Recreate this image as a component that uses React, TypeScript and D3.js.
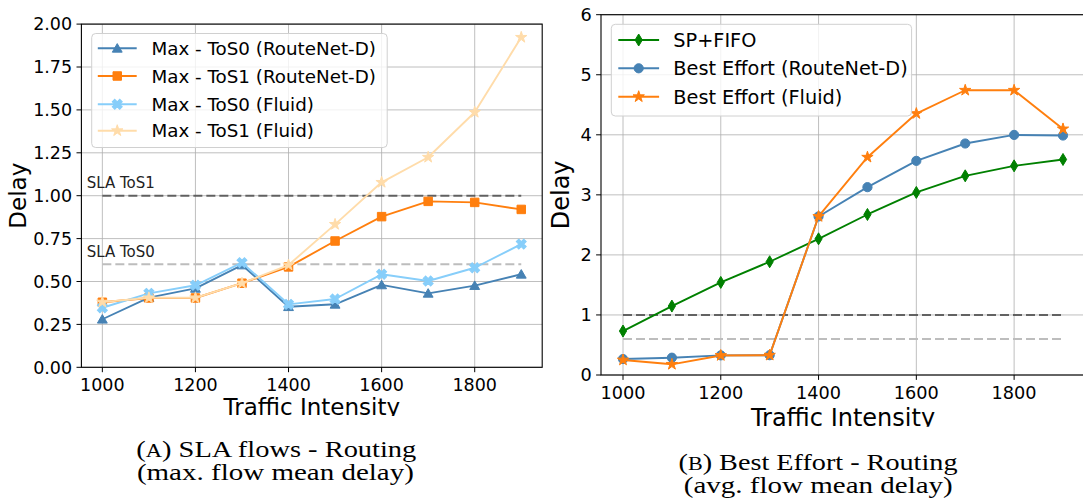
import React from 'react';
import * as d3 from 'd3';

// ---------------- data ----------------
const intensities = [1000, 1100, 1200, 1300, 1400, 1500, 1600, 1700, 1800, 1900];

const maxTos0RouteNet = [0.28, 0.406, 0.46, 0.596, 0.353, 0.367, 0.48, 0.431, 0.476, 0.542];
const maxTos1RouteNet = [0.379, 0.404, 0.404, 0.49, 0.585, 0.736, 0.878, 0.967, 0.961, 0.92];
const maxTos0Fluid = [0.347, 0.431, 0.478, 0.61, 0.367, 0.398, 0.542, 0.503, 0.58, 0.718];
const maxTos1Fluid = [0.38, 0.405, 0.405, 0.49, 0.596, 0.833, 1.078, 1.224, 1.486, 1.923];

const spFifo = [0.732, 1.148, 1.542, 1.886, 2.268, 2.673, 3.04, 3.317, 3.483, 3.589];
const bestEffortRouteNet = [0.266, 0.288, 0.327, 0.33, 2.64, 3.128, 3.566, 3.855, 3.998, 3.988];
const bestEffortFluid = [0.25, 0.178, 0.325, 0.33, 2.64, 3.627, 4.354, 4.742, 4.742, 4.098];

const slaTos1 = 1.0;
const slaTos0 = 0.6;

const xTicks = [1000, 1200, 1400, 1600, 1800];
const leftYTicks = [0, 0.25, 0.5, 0.75, 1.0, 1.25, 1.5, 1.75, 2.0];
const rightYTicks = [0, 1, 2, 3, 4, 5, 6];

const leftLabels = ['Max - ToS0 (RouteNet-D)', 'Max - ToS1 (RouteNet-D)', 'Max - ToS0 (Fluid)', 'Max - ToS1 (Fluid)'];
const rightLabels = ['SP+FIFO', 'Best Effort (RouteNet-D)', 'Best Effort (Fluid)'];

// ---------------- helpers ----------------
const FONT = 'DejaVu Sans, sans-serif';

type MarkerKind = 'triangle' | 'square' | 'xcross' | 'star' | 'diamond' | 'circle';

function Marker({ kind, x, y, color, size }: { kind: MarkerKind; x: number; y: number; color: string; size: number }) {
  if (kind === 'circle') return <circle cx={x} cy={y} r={size} fill={color} stroke={color} strokeWidth={1} />;
  if (kind === 'diamond') {
    const h = size, w = size * 0.6;
    return <path d={`M${x},${y - h}L${x + w},${y}L${x},${y + h}L${x - w},${y}Z`} fill={color} stroke={color} strokeWidth={1} />;
  }
  let sym: d3.SymbolType = d3.symbolSquare;
  let rot = 0;
  if (kind === 'triangle') sym = d3.symbolTriangle;
  if (kind === 'star') sym = d3.symbolStar;
  if (kind === 'xcross') { sym = d3.symbolCross; rot = 45; }
  const d = d3.symbol(sym, size)() || '';
  const dy = kind === 'triangle' ? 1 : 0;
  return <path d={d} transform={`translate(${x},${y + dy}) rotate(${rot})`} fill={color} stroke={color} strokeWidth={1} />;
}

interface Series { values: number[]; color: string; marker: MarkerKind; msize: number; label: string; lw: number }

interface PanelProps {
  x0: number; x1: number; y0: number; y1: number; ymax: number;
  yTicks: number[]; yFmt: (v: number) => string;
  series: Series[];
  tickFont: number; labelFont: number;
  yLabelX: number; xLabelY: number;
  legend: { x: number; y: number; w: number; h: number; rows: number[]; hx0: number; hx1: number; tx: number; font: number };
  slaText: boolean;
  clipId: string; clip: { x: number; y: number; w: number; h: number };
}

function Panel(p: PanelProps) {
  const x = d3.scaleLinear().domain([955, 1945]).range([p.x0, p.x1]);
  const y = d3.scaleLinear().domain([0, p.ymax]).range([p.y0, p.y1]);
  const line = d3.line<number>().x((_, i) => x(intensities[i])).y((v) => y(v));
  const grid = '#b0b0b0';
  return (
    <g clipPath={`url(#${p.clipId})`}>
      <defs>
        <clipPath id={p.clipId}><rect x={p.clip.x} y={p.clip.y} width={p.clip.w} height={p.clip.h} /></clipPath>
      </defs>
      {/* grid */}
      {xTicks.map((t) => (
        <line key={'gx' + t} x1={x(t)} x2={x(t)} y1={p.y0} y2={p.y1} stroke={grid} strokeWidth={1} opacity={0.8} />
      ))}
      {p.yTicks.map((t) => (
        <line key={'gy' + t} x1={p.x0} x2={p.x1} y1={y(t)} y2={y(t)} stroke={grid} strokeWidth={1} opacity={0.8} />
      ))}
      {/* SLA lines */}
      <line x1={x(1000)} x2={x(1900)} y1={y(slaTos1)} y2={y(slaTos1)} stroke="#555" strokeWidth={2} strokeDasharray="9,4" opacity={0.9} />
      <line x1={x(1000)} x2={x(1900)} y1={y(slaTos0)} y2={y(slaTos0)} stroke="#bdbdbd" strokeWidth={2} strokeDasharray="9,4" />
      {p.slaText && (
        <g fontFamily={FONT} fontSize={15} fill="#222">
          <text x={p.x0 + 5.3} y={y(slaTos1) - 7.5}>SLA ToS1</text>
          <text x={p.x0 + 5.3} y={y(slaTos0) - 7.5}>SLA ToS0</text>
        </g>
      )}
      {/* series */}
      {p.series.map((s, si) => (
        <g key={'s' + si}>
          <path d={line(s.values) || ''} fill="none" stroke={s.color} strokeWidth={s.lw} strokeLinejoin="round" />
          {s.values.map((v, i) => (
            <Marker key={i} kind={s.marker} x={x(intensities[i])} y={y(v)} color={s.color} size={s.msize} />
          ))}
        </g>
      ))}
      {/* spines */}
      <rect x={p.x0} y={p.y1} width={p.x1 - p.x0} height={p.y0 - p.y1} fill="none" stroke="#000" strokeWidth={1.1} />
      {/* ticks */}
      {xTicks.map((t) => (
        <g key={'tx' + t}>
          <line x1={x(t)} x2={x(t)} y1={p.y0} y2={p.y0 + 4.9} stroke="#000" strokeWidth={1} />
          <text x={x(t)} y={p.y0 + 23.7} textAnchor="middle" fontFamily={FONT} fontSize={p.tickFont} fill="#000">{t}</text>
        </g>
      ))}
      {p.yTicks.map((t) => (
        <g key={'ty' + t}>
          <line x1={p.x0 - 4.9} x2={p.x0} y1={y(t)} y2={y(t)} stroke="#000" strokeWidth={1} />
          <text x={p.x0 - 9.3} y={y(t)} dy="0.36em" textAnchor="end" fontFamily={FONT} fontSize={p.tickFont} fill="#000">{p.yFmt(t)}</text>
        </g>
      ))}
      {/* axis labels */}
      <text x={(p.x0 + p.x1) / 2} y={p.xLabelY} textAnchor="middle" fontFamily={FONT} fontSize={p.labelFont} fill="#000">Traffic Intensity</text>
      <text transform={`translate(${p.yLabelX},${(p.y0 + p.y1) / 2}) rotate(-90)`} textAnchor="middle" fontFamily={FONT} fontSize={p.labelFont} fill="#000">Delay</text>
      {/* legend */}
      <rect x={p.legend.x} y={p.legend.y} width={p.legend.w} height={p.legend.h} rx={4} fill="#fff" fillOpacity={0.8} stroke="#d0d0d0" strokeWidth={1} />
      {p.series.map((s, si) => {
        const cy = p.legend.rows[si];
        return (
          <g key={'lg' + si}>
            <line x1={p.legend.hx0} x2={p.legend.hx1} y1={cy} y2={cy} stroke={s.color} strokeWidth={s.lw} />
            <Marker kind={s.marker} x={(p.legend.hx0 + p.legend.hx1) / 2} y={cy} color={s.color} size={s.msize} />
            <text x={p.legend.tx} y={cy} dy="0.36em" fontFamily={FONT} fontSize={p.legend.font} fill="#000">{s.label}</text>
          </g>
        );
      })}
    </g>
  );
}

export default function App() {
  const leftSeries: Series[] = [
    { values: maxTos0RouteNet, color: '#4682b4', marker: 'triangle', msize: 42, label: leftLabels[0], lw: 1.9 },
    { values: maxTos1RouteNet, color: '#ff7f0e', marker: 'square', msize: 72, label: leftLabels[1], lw: 1.9 },
    { values: maxTos0Fluid, color: '#87cefa', marker: 'xcross', msize: 62, label: leftLabels[2], lw: 1.9 },
    { values: maxTos1Fluid, color: '#ffdcaa', marker: 'star', msize: 40, label: leftLabels[3], lw: 1.9 },
  ];
  const rightSeries: Series[] = [
    { values: spFifo, color: '#008000', marker: 'diamond', msize: 6, label: rightLabels[0], lw: 1.9 },
    { values: bestEffortRouteNet, color: '#4682b4', marker: 'circle', msize: 4.6, label: rightLabels[1], lw: 1.9 },
    { values: bestEffortFluid, color: '#ff7f0e', marker: 'star', msize: 40, label: rightLabels[2], lw: 1.9 },
  ];
  const capFont = 'Liberation Serif, Times New Roman, serif';
  return (
    <svg width={1083} height={502} style={{ position: 'absolute', left: 0, top: 0, background: '#fff' }}>
      <rect x={0} y={0} width={1083} height={502} fill="#fff" />
      <Panel
        x0={81.4} x1={542.2} y0={367.3} y1={24.1} ymax={2}
        yTicks={leftYTicks} yFmt={(v) => v.toFixed(2)}
        series={leftSeries} tickFont={17.5} labelFont={23}
        yLabelX={26} xLabelY={415}
        legend={{ x: 91.7, y: 33.5, w: 295.5, h: 114, rows: [48.3, 76, 104.3, 130.7], hx0: 97.8, hx1: 136.7, tx: 151.5, font: 18.3 }}
        slaText={true}
        clipId="clipL" clip={{ x: 0, y: 0, w: 546, h: 416 }}
      />
      <Panel
        x0={601} x1={1085} y0={375} y1={14.7} ymax={6}
        yTicks={rightYTicks} yFmt={(v) => String(v)}
        series={rightSeries} tickFont={17.7} labelFont={24}
        yLabelX={569} xLabelY={425.8}
        legend={{ x: 611.3, y: 24.3, w: 300.3, h: 91.7, rows: [40, 68.3, 96.7], hx0: 618.3, hx1: 659.1, tx: 673.3, font: 19.3 }}
        slaText={false}
        clipId="clipR" clip={{ x: 546, y: 0, w: 537, h: 426.7 }}
      />
      {/* captions */}
      <g fontFamily={capFont} fill="#000" textAnchor="middle">
        <text x={276.3} y={456.7} fontSize={24} textLength={280} lengthAdjust="spacingAndGlyphs">(<tspan fontSize={19}>A</tspan>) SLA flows - Routing</text>
        <text x={275.4} y={480.3} fontSize={24} textLength={277} lengthAdjust="spacingAndGlyphs">(max. flow mean delay)</text>
        <text x={818} y={470.2} fontSize={23} textLength={279} lengthAdjust="spacingAndGlyphs">(<tspan fontSize={18}>B</tspan>) Best Effort - Routing</text>
        <text x={818.3} y={493.3} fontSize={23} textLength={269} lengthAdjust="spacingAndGlyphs">(avg. flow mean delay)</text>
      </g>
    </svg>
  );
}
